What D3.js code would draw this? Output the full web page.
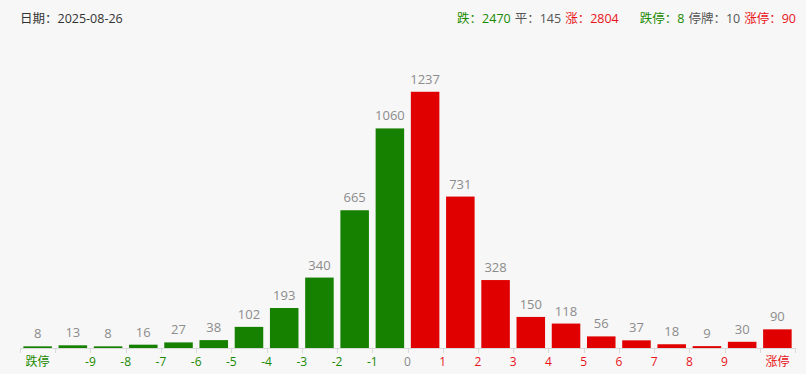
<!DOCTYPE html>
<html>
<head>
<meta charset="utf-8">
<script src="https://cdn.jsdelivr.net/npm/d3@7"></script>
<style>
  body { margin: 0; background: #f7f7f7; font-family: "Open Sans", "Noto Sans CJK SC", sans-serif; }
  .value-label { font-size: 13px; fill: #8c8c8c; text-anchor: middle; }
  .tick-label { font-size: 12px; text-anchor: middle; }
  .head { font-size: 12.5px; }
</style>
</head>
<body>
<div id="wrapper"></div>
<script>
// data
const categories = ["跌停", "<-9", "-9~-8", "-8~-7", "-7~-6", "-6~-5", "-5~-4", "-4~-3", "-3~-2", "-2~-1", "-1~0",
  "0~1", "1~2", "2~3", "3~4", "4~5", "5~6", "6~7", "7~8", "8~9", ">9", "涨停"];
const counts = [8, 13, 8, 16, 27, 38, 102, 193, 340, 665, 1060, 1237, 731, 328, 150, 118, 56, 37, 18, 9, 30, 90];
const boundaryLabels = ["-9", "-8", "-7", "-6", "-5", "-4", "-3", "-2", "-1", "0", "1", "2", "3", "4", "5", "6", "7", "8", "9"];
const headerDate = "日期：2025-08-26";
const headerStats = [
  { text: "跌：2470", type: "down" },
  { text: "平：145", type: "flat" },
  { text: "涨：2804", type: "up" },
  { text: "跌停：8", type: "down", gap: true },
  { text: "停牌：10", type: "flat" },
  { text: "涨停：90", type: "up" },
];

const green = "#168000";
const red = "#e00000";
const textColor = { down: "#1a8a00", flat: "#555", up: "#e8141a" };

let dimensions = {
  width: 806,
  height: 374,
  left: 20,
  right: 795,
  baseline: 348,
  top: 58,
};

const wrapper = d3.select("#wrapper")
  .append("svg")
  .attr("width", dimensions.width)
  .attr("height", dimensions.height);

wrapper.append("rect")
  .attr("width", dimensions.width)
  .attr("height", dimensions.height)
  .attr("fill", "#f7f7f7");

// scales
const xScale = d3.scaleBand()
  .domain(categories)
  .range([dimensions.left, dimensions.right]);

const yScale = d3.scaleLinear()
  .domain([0, 1400])
  .range([dimensions.baseline, dimensions.top]);

const step = xScale.step();
const barWidth = step * 0.81;
const colorOf = (i) => (i <= 10 ? green : red);

// bars
const plot = wrapper.append("g");
plot.selectAll(".bar")
  .data(counts)
  .enter()
  .append("rect")
  .attr("class", "bar")
  .attr("x", (d, i) => xScale(categories[i]) + (step - barWidth) / 2)
  .attr("y", (d) => yScale(d))
  .attr("width", barWidth)
  .attr("height", (d) => dimensions.baseline - yScale(d))
  .attr("fill", (d, i) => colorOf(i));

plot.selectAll(".value-label")
  .data(counts)
  .enter()
  .append("text")
  .attr("class", "value-label")
  .attr("x", (d, i) => xScale(categories[i]) + step / 2)
  .attr("y", (d) => yScale(d) - 8)
  .text((d) => d);

// axis
const axis = wrapper.append("g");
axis.append("line")
  .attr("x1", dimensions.left)
  .attr("x2", dimensions.right)
  .attr("y1", dimensions.baseline + 0.5)
  .attr("y2", dimensions.baseline + 0.5)
  .attr("stroke", "#d9d9d9");

const tickXs = categories.map((c) => xScale(c)).concat([dimensions.right]);
axis.selectAll(".tick")
  .data(tickXs)
  .enter()
  .append("line")
  .attr("x1", (d) => Math.round(d) + 0.5)
  .attr("x2", (d) => Math.round(d) + 0.5)
  .attr("y1", dimensions.baseline)
  .attr("y2", dimensions.baseline + 5)
  .attr("stroke", "#d9d9d9");

const labelY = dimensions.baseline + 18;
axis.selectAll(".boundary-label")
  .data(boundaryLabels)
  .enter()
  .append("text")
  .attr("class", "tick-label")
  .attr("x", (d, i) => xScale(categories[i + 2]))
  .attr("y", labelY)
  .attr("fill", (d) => (+d < 0 ? textColor.down : +d > 0 ? textColor.up : "#888"))
  .text((d) => d);

axis.append("text")
  .attr("class", "tick-label")
  .attr("x", xScale(categories[0]) + step / 2)
  .attr("y", labelY)
  .attr("fill", textColor.down)
  .text(categories[0]);

axis.append("text")
  .attr("class", "tick-label")
  .attr("x", xScale(categories[categories.length - 1]) + step / 2)
  .attr("y", labelY)
  .attr("fill", textColor.up)
  .text(categories[categories.length - 1]);

// header
wrapper.append("text")
  .attr("class", "head")
  .attr("x", 20)
  .attr("y", 23)
  .attr("fill", "#333")
  .text(headerDate);

const head = wrapper.append("text")
  .attr("class", "head")
  .attr("x", 796)
  .attr("y", 23)
  .attr("text-anchor", "end");

headerStats.forEach((s, i) => {
  head.append("tspan")
    .attr("dx", i == 0 ? 0 : s.gap ? 21 : 4)
    .attr("fill", textColor[s.type])
    .text(s.text);
});
</script>
</body>
</html>
